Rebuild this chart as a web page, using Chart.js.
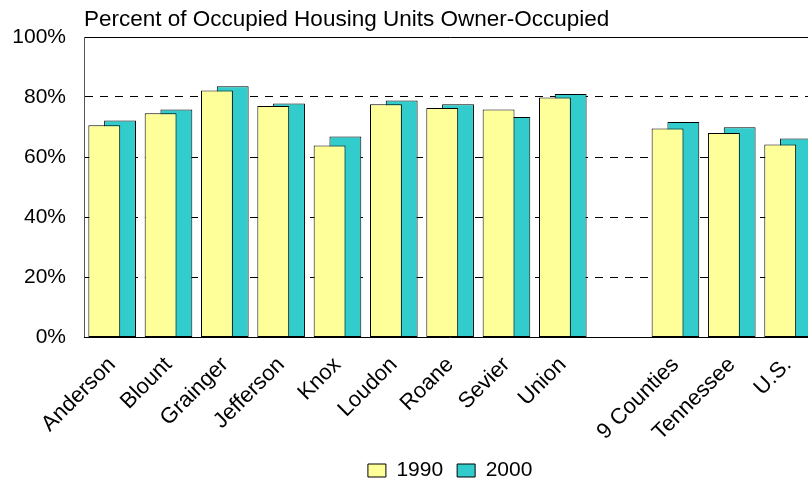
<!DOCTYPE html>
<html>
<head>
<meta charset="utf-8">
<script src="https://cdn.jsdelivr.net/npm/chart.js@4/dist/chart.umd.min.js"></script>
<style>
  html, body { margin: 0; padding: 0; background: #fff; overflow: hidden; }
  #wrap { position: relative; width: 822px; height: 483px; }
</style>
</head>
<body>
<div id="wrap"><canvas id="ownerChart"></canvas></div>
<script>
// Categories (empty slot separates counties from the totals)
const labels = ["Anderson", "Blount", "Grainger", "Jefferson", "Knox", "Loudon", "Roane", "Sevier", "Union", "", "9 Counties", "Tennessee", "U.S."];
const values1990 = [70.6, 74.6, 82.2, 77.0, 63.8, 77.6, 76.3, 75.8, 79.8, null, 69.5, 68.0, 64.2];
const values2000 = [72.2, 75.8, 83.6, 77.8, 66.8, 78.8, 77.6, 73.3, 81.0, null, 71.7, 69.9, 66.2];
const yTicks = [0, 20, 40, 60, 80, 100];

const FONT = '"Liberation Sans", Arial, sans-serif';
Chart.defaults.font.family = FONT;
Chart.defaults.color = "#000";

const ctx = document.getElementById("ownerChart").getContext("2d");

new Chart(ctx, {
  type: "bar",
  data: {
    labels: labels,
    datasets: [
      {
        label: "1990",
        data: values1990,
        backgroundColor: "#ffff99",
        borderColor: "#000",
        borderWidth: 1,
        borderSkipped: false,
      },
      {
        label: "2000",
        data: values2000,
        backgroundColor: "#33cccc",
        borderColor: "#000",
        borderWidth: 1,
        borderSkipped: false,
      },
    ],
  },
  options: {
    responsive: true,
    maintainAspectRatio: false,
    animation: false,
    categoryPercentage: 0.56,
    barPercentage: 2.02, // bars overlap like the original
    layout: {
      padding: { left: 12, right: 2, top: 0, bottom: -8 },
    },
    plugins: {
      tooltip: { enabled: false },
      title: {
        display: true,
        text: "Percent of Occupied Housing Units Owner-Occupied",
        align: "start",
        fullSize: false,
        color: "#000",
        font: { size: 22.5, weight: "normal" },
        padding: { top: 6, bottom: 4 },
      },
      legend: {
        position: "bottom",
        fullSize: false,
        labels: {
          color: "#000",
          font: { size: 21 },
          boxWidth: 18,
          boxHeight: 13,
          padding: 14,
        },
      },
    },
    scales: {
      x: {
        grid: { display: false, drawTicks: false },
        border: { display: true, color: "#000", width: 1 },
        ticks: {
          autoSkip: false,
          maxRotation: 45,
          minRotation: 45,
          padding: 15,
          color: "#000",
          font: { size: 22 },
        },
        afterFit: (scale) => {
          // rotated labels may hang left of the plot, like the original
          scale.paddingLeft = 0;
          scale.height = 109;
        },
      },
      y: {
        min: 0,
        max: 100,
        afterBuildTicks: (axis) => {
          axis.ticks = yTicks.map((v) => ({ value: v }));
        },
        afterFit: (scale) => {
          scale.width = 72;
        },
        grid: {
          color: "#000",
          lineWidth: (c) => (c.tick && c.tick.value === 0 ? 0 : 1),
          drawTicks: false,
        },
        border: {
          display: true,
          color: "#555",
          width: 1,
          dash: (c) => (c.tick && c.tick.value === 100 ? [] : [8, 7]),
        },
        ticks: {
          padding: 18,
          color: "#000",
          font: { size: 21 },
          callback: (v) => v + "%",
        },
      },
    },
  },
});
</script>
</body>
</html>
